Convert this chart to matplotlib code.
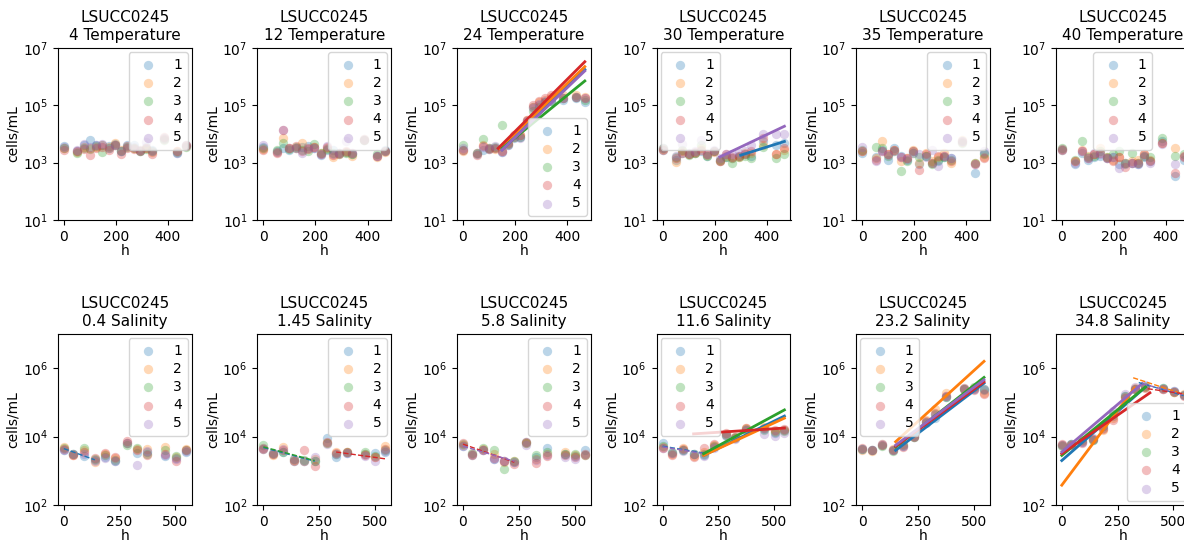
import matplotlib
matplotlib.use("Agg")
import matplotlib.pyplot as plt
import numpy as np
from matplotlib.ticker import NullLocator, FixedLocator

# ---------------- data ----------------
strain = "LSUCC0245"
replicates = ["1", "2", "3", "4", "5"]

temp_conditions = ["4", "12", "24", "30", "35", "40"]
sal_conditions = ["0.4", "1.45", "5.8", "11.6", "23.2", "34.8"]

temp_hours = [0, 52, 76, 100, 124, 148, 172, 196, 220, 244, 268, 292, 316, 340, 385, 435, 468]
sal_hours = [0, 42, 90, 139, 184, 230, 284, 326, 375, 455, 502, 546]

# log10(cells/mL), one row per replicate
temp_4 = [
    [3.58, 3.40, 3.62, 3.78, 3.60, 3.62, 3.58, 3.65, 3.40, 3.62, 3.60, 3.42, 3.55, 3.45, 3.85, 3.35, 3.60],
    [3.50, 3.38, 3.55, 3.50, 3.55, 3.60, 3.55, 3.68, 3.45, 3.58, 3.52, 3.45, 3.50, 3.38, 3.82, 3.40, 3.58],
    [3.52, 3.35, 3.50, 3.48, 3.58, 3.38, 3.50, 3.62, 3.40, 3.55, 3.50, 3.40, 3.48, 3.40, 3.80, 3.38, 3.55],
    [3.45, 3.42, 3.48, 3.28, 3.52, 3.55, 3.45, 3.60, 3.30, 3.50, 3.48, 3.42, 3.52, 3.30, 3.88, 3.40, 3.60],
    [3.55, 3.45, 3.65, 3.55, 3.62, 3.65, 3.52, 3.62, 3.42, 3.58, 3.55, 3.45, 3.72, 3.40, 3.84, 3.32, 3.58],
]
temp_12 = [
    [3.55, 3.40, 3.50, 3.45, 3.50, 3.55, 3.58, 3.50, 3.28, 3.45, 3.45, 3.35, 3.38, 3.30, 3.80, 3.25, 3.45],
    [3.48, 3.38, 3.85, 3.50, 3.52, 3.68, 3.50, 3.55, 3.32, 3.50, 3.20, 3.32, 3.38, 3.25, 3.82, 3.20, 3.38],
    [3.50, 3.45, 3.70, 3.48, 3.55, 3.45, 3.40, 3.65, 3.35, 3.48, 3.35, 3.30, 3.35, 3.30, 3.80, 3.30, 3.42],
    [3.45, 3.35, 4.15, 3.52, 3.58, 3.40, 3.48, 3.55, 3.30, 3.55, 3.28, 3.30, 3.40, 3.35, 3.78, 3.22, 3.40],
    [3.62, 3.38, 4.15, 3.50, 3.52, 3.35, 3.52, 3.52, 3.30, 3.58, 3.30, 3.32, 3.75, 3.32, 3.82, 3.22, 3.42],
]
temp_24 = [
    [3.45, 3.30, 3.45, 3.48, 3.52, 3.38, 3.60, 3.85, 3.90, 4.45, 4.95, 5.00, 5.10, 5.15, 5.20, 5.25, 5.12],
    [3.40, 3.32, 3.60, 3.50, 3.48, 3.42, 3.65, 3.88, 3.95, 4.50, 4.95, 5.10, 5.20, 5.30, 5.35, 5.35, 5.28],
    [3.62, 3.35, 3.82, 3.50, 3.55, 4.33, 3.65, 3.90, 3.88, 4.40, 4.80, 4.95, 5.10, 5.15, 5.25, 5.30, 5.20],
    [3.45, 3.28, 3.58, 3.48, 3.50, 3.40, 3.70, 3.95, 3.95, 4.50, 5.00, 5.15, 5.25, 5.35, 5.25, 5.30, 5.25],
    [3.50, 3.32, 3.55, 3.52, 3.58, 3.38, 3.62, 3.88, 3.85, 4.45, 4.90, 5.05, 5.15, 5.20, 5.25, 5.28, 5.25],
]
temp_30 = [
    [3.45, 3.10, 3.35, 3.30, 3.35, 3.40, 3.25, 3.40, 3.05, 3.20, 3.15, 3.25, 3.30, 3.25, 3.75, 3.60, 3.70],
    [3.48, 3.02, 3.40, 3.30, 3.32, 3.50, 3.28, 3.38, 3.05, 3.25, 3.15, 3.20, 3.35, 3.35, 3.60, 3.30, 3.45],
    [3.50, 3.20, 3.45, 3.28, 3.35, 3.60, 3.25, 3.42, 3.08, 3.20, 3.00, 3.20, 3.25, 3.15, 3.55, 3.15, 3.30],
    [3.45, 3.15, 3.35, 3.30, 3.38, 3.45, 3.30, 3.40, 3.05, 3.30, 3.20, 3.25, 3.30, 3.40, 3.85, 3.30, 3.50],
    [3.50, 3.25, 3.65, 3.35, 3.40, 3.80, 3.30, 3.45, 3.15, 3.30, 3.30, 3.35, 3.40, 3.60, 4.00, 4.00, 4.00],
]
temp_35 = [
    [3.35, 3.20, 3.45, 3.10, 3.50, 3.25, 3.10, 3.40, 2.95, 3.25, 3.00, 3.05, 3.20, 3.15, 3.75, 2.65, 3.35],
    [3.40, 3.15, 3.75, 3.30, 3.45, 3.05, 3.15, 3.45, 3.00, 3.35, 3.05, 3.20, 3.35, 3.00, 3.78, 3.00, 3.20],
    [3.45, 3.55, 3.50, 3.25, 3.40, 2.70, 3.05, 3.35, 3.20, 3.25, 2.95, 3.10, 3.20, 3.10, 3.70, 3.00, 3.30],
    [3.40, 3.10, 3.40, 3.30, 3.45, 3.20, 3.15, 3.42, 2.75, 3.30, 3.00, 3.25, 3.25, 3.05, 3.72, 2.95, 3.15],
    [3.55, 3.05, 3.40, 3.28, 3.42, 3.20, 3.12, 3.35, 3.30, 3.20, 3.45, 2.90, 3.25, 3.15, 3.75, 2.95, 3.40],
]
temp_40 = [
    [3.45, 2.95, 3.35, 3.10, 3.20, 3.25, 3.15, 3.20, 2.95, 2.95, 3.00, 2.95, 3.20, 3.05, 3.75, 2.55, 3.10],
    [3.48, 3.05, 3.45, 3.25, 3.30, 3.50, 3.20, 3.10, 3.20, 3.00, 3.05, 3.10, 3.30, 3.10, 3.70, 3.50, 3.20],
    [3.50, 3.10, 3.75, 3.20, 3.25, 3.40, 3.20, 3.30, 3.40, 3.00, 3.35, 3.00, 3.25, 3.20, 3.85, 3.25, 3.30],
    [3.45, 3.05, 3.40, 3.15, 3.30, 3.35, 3.18, 3.05, 3.20, 2.85, 3.00, 3.00, 3.30, 3.05, 3.70, 2.65, 3.25],
    [3.48, 3.00, 3.40, 3.15, 3.32, 3.30, 3.15, 3.20, 2.80, 3.00, 3.00, 2.95, 3.25, 3.00, 3.65, 2.95, 3.20],
]

sal_04 = [
    [3.62, 3.48, 3.42, 3.33, 3.40, 3.28, 3.80, 3.52, 3.55, 3.42, 3.38, 3.55],
    [3.70, 3.45, 3.60, 3.25, 3.50, 3.38, 3.82, 3.65, 3.65, 3.70, 3.40, 3.65],
    [3.68, 3.50, 3.68, 3.35, 3.45, 3.32, 3.75, 3.68, 3.50, 3.60, 3.42, 3.62],
    [3.65, 3.45, 3.55, 3.38, 3.52, 3.40, 3.88, 3.62, 3.45, 3.48, 3.30, 3.60],
    [3.60, 3.50, 3.50, 3.30, 3.38, 3.30, 3.82, 3.17, 3.58, 3.45, 3.35, 3.58],
]
sal_145 = [
    [3.65, 3.50, 3.55, 3.30, 3.30, 3.28, 3.95, 3.40, 3.52, 3.48, 3.52, 3.55],
    [3.68, 3.45, 3.70, 3.32, 3.30, 3.35, 3.80, 3.55, 3.55, 3.50, 3.40, 3.72],
    [3.75, 3.52, 3.55, 3.35, 3.32, 3.30, 3.82, 3.50, 3.55, 3.55, 3.42, 3.60],
    [3.65, 3.50, 3.60, 3.30, 3.60, 3.15, 3.85, 3.52, 3.55, 3.45, 3.40, 3.65],
    [3.68, 3.52, 3.65, 3.35, 3.28, 3.40, 3.78, 3.50, 3.52, 3.42, 3.30, 3.58],
]
sal_58 = [
    [3.72, 3.45, 3.62, 3.35, 3.28, 3.25, 3.85, 3.40, 3.68, 3.50, 3.42, 3.60],
    [3.75, 3.50, 3.65, 3.50, 3.25, 3.28, 3.80, 3.35, 3.50, 3.55, 3.45, 3.50],
    [3.78, 3.52, 3.68, 3.62, 3.05, 3.30, 3.80, 3.45, 3.55, 3.48, 3.48, 3.45],
    [3.80, 3.45, 3.62, 3.38, 3.30, 3.20, 3.85, 3.22, 3.42, 3.45, 3.40, 3.45],
    [3.72, 3.48, 3.60, 3.35, 3.28, 3.25, 3.75, 3.32, 3.45, 3.40, 3.35, 3.48],
]
sal_116 = [
    [3.80, 3.52, 3.62, 3.48, 3.45, 3.70, 4.05, 3.95, 4.20, 4.22, 4.10, 4.18],
    [3.70, 3.48, 3.68, 3.42, 3.55, 3.75, 4.08, 3.95, 4.25, 4.28, 4.15, 4.20],
    [3.72, 3.55, 3.60, 3.50, 3.50, 3.72, 4.05, 3.98, 4.22, 4.20, 4.12, 4.15],
    [3.68, 3.45, 3.65, 3.40, 3.68, 3.78, 4.10, 4.00, 4.25, 4.25, 4.18, 4.22],
    [3.68, 3.52, 3.58, 3.48, 3.42, 3.68, 4.02, 3.92, 4.18, 4.08, 4.02, 4.10],
]
sal_232 = [
    [3.65, 3.62, 3.75, 3.60, 3.72, 4.00, 4.40, 4.55, 5.15, 5.40, 5.40, 5.35],
    [3.62, 3.58, 3.78, 3.65, 3.78, 4.02, 4.50, 4.80, 5.27, 5.42, 5.42, 5.28],
    [3.65, 3.62, 3.72, 3.58, 3.75, 3.98, 4.42, 4.65, 5.15, 5.40, 5.45, 5.40],
    [3.68, 3.60, 3.75, 3.62, 3.70, 4.00, 4.45, 4.70, 5.20, 5.38, 5.35, 5.25],
    [3.65, 3.62, 3.78, 3.60, 3.72, 4.02, 4.42, 4.62, 5.18, 5.42, 5.40, 5.38],
]
sal_348 = [
    [3.75, 3.78, 3.85, 3.90, 4.25, 4.60, 5.20, 5.40, 5.48, 5.42, 5.32, 5.22],
    [3.75, 3.75, 3.88, 3.92, 4.20, 4.55, 5.15, 5.42, 5.45, 5.40, 5.30, 5.25],
    [3.72, 3.78, 3.90, 3.90, 4.30, 4.65, 5.20, 5.38, 5.45, 5.42, 5.30, 5.22],
    [3.78, 3.75, 3.82, 3.92, 4.22, 4.50, 5.12, 5.40, 5.42, 5.38, 5.30, 5.20],
    [3.75, 3.78, 3.85, 3.95, 4.30, 4.75, 5.25, 5.45, 5.50, 5.40, 5.32, 5.22],
]

# fitted phases: (replicate index, start h, end h, start log10, end log10, phase)
fits_temp_24 = [
    (0, 150, 468, 3.45, 6.25, "growth"),
    (1, 140, 468, 3.50, 6.35, "growth"),
    (2, 150, 468, 3.50, 5.85, "growth"),
    (3, 135, 468, 3.50, 6.52, "growth"),
    (4, 150, 468, 3.45, 6.20, "growth"),
]
fits_temp_30 = [
    (0, 300, 468, 3.26, 3.74, "growth"),
    (4, 220, 468, 3.20, 4.27, "growth"),
]
fits_sal_04 = [(0, 0, 139, 3.65, 3.32, "decline")]
fits_sal_145 = [
    (0, 0, 230, 3.68, 3.28, "decline"),
    (2, 0, 230, 3.70, 3.30, "decline"),
    (3, 326, 546, 3.55, 3.35, "decline"),
]
fits_sal_58 = [
    (3, 0, 230, 3.78, 3.25, "decline"),
    (4, 0, 230, 3.72, 3.28, "decline"),
]
fits_sal_116 = [
    (0, 0, 184, 3.72, 3.52, "decline"),
    (4, 0, 184, 3.70, 3.50, "decline"),
    (0, 184, 546, 3.45, 4.60, "growth"),
    (1, 184, 546, 3.45, 4.54, "growth"),
    (2, 184, 546, 3.50, 4.78, "growth"),
    (3, 139, 546, 4.08, 4.25, "growth"),
]
fits_sal_232 = [
    (0, 150, 546, 3.60, 5.56, "growth"),
    (1, 150, 546, 3.85, 6.20, "growth"),
    (2, 150, 546, 3.70, 5.73, "growth"),
    (3, 150, 546, 3.72, 5.60, "growth"),
    (4, 150, 546, 3.75, 5.66, "growth"),
]
fits_sal_348 = [
    (0, 0, 375, 3.30, 5.45, "growth"),
    (1, 0, 326, 2.58, 5.42, "growth"),
    (2, 0, 375, 3.45, 5.45, "growth"),
    (3, 0, 395, 3.50, 5.28, "growth"),
    (4, 0, 360, 3.55, 5.55, "growth"),
    (1, 320, 546, 5.72, 5.24, "decline"),
    (0, 345, 546, 5.58, 5.20, "decline"),
    (4, 360, 546, 5.55, 5.22, "decline"),
    (3, 385, 546, 5.40, 5.25, "decline"),
]

temp_data = [temp_4, temp_12, temp_24, temp_30, temp_35, temp_40]
sal_data = [sal_04, sal_145, sal_58, sal_116, sal_232, sal_348]
temp_fits = [[], [], fits_temp_24, fits_temp_30, [], []]
sal_fits = [fits_sal_04, fits_sal_145, fits_sal_58, fits_sal_116, fits_sal_232, fits_sal_348]
temp_legend_loc = ["upper right", "upper right", "lower right", "upper left", "upper right", "upper center"]
sal_legend_loc = ["upper right", "upper right", "upper right", "upper left", "upper left", "lower right"]

# ---------------- drawing ----------------
W, H = 1184, 543
fig = plt.figure(figsize=(W / 100, H / 100), dpi=100)
colors = plt.rcParams["axes.prop_cycle"].by_key()["color"][:5]

col_left = [57.7 + i * 199.6 for i in range(6)]
ax_w = 134
rows = [
    dict(top=48, bottom=220, cond=temp_conditions, label="Temperature", hours=temp_hours,
         data=temp_data, fits=temp_fits, locs=temp_legend_loc, ylim=(1e1, 1e7),
         yticks=[1e1, 1e3, 1e5, 1e7], xticks=[0, 200, 400]),
    dict(top=334, bottom=505, cond=sal_conditions, label="Salinity", hours=sal_hours,
         data=sal_data, fits=sal_fits, locs=sal_legend_loc, ylim=(1e2, 1e7),
         yticks=[1e2, 1e4, 1e6], xticks=[0, 250, 500]),
]

for row in rows:
    for j in range(6):
        left = col_left[j]
        ax = fig.add_axes([left / W, 1 - row["bottom"] / H, ax_w / W,
                           (row["bottom"] - row["top"]) / H])
        hrs = np.array(row["hours"])
        for r, rep in enumerate(replicates):
            vals = 10 ** np.array(row["data"][j][r])
            ax.scatter(hrs, vals, s=45, color=colors[r], alpha=0.3, linewidths=0,
                       label=rep, zorder=2)
        for (r, t0, t1, l0, l1, phase) in row["fits"][j]:
            if phase == "growth":
                ax.plot([t0, t1], [10 ** l0, 10 ** l1], color=colors[r], lw=2, zorder=3)
            else:
                ax.plot([t0, t1], [10 ** l0, 10 ** l1], color=colors[r], lw=1,
                        ls="--", zorder=3)
        ax.set_yscale("log")
        ax.set_ylim(*row["ylim"])
        ax.yaxis.set_major_locator(FixedLocator(row["yticks"]))
        ax.yaxis.set_minor_locator(NullLocator())
        ax.set_xticks(row["xticks"])
        span = hrs.max() - hrs.min()
        ax.set_xlim(hrs.min() - 0.05 * span, hrs.max() + 0.05 * span)
        ax.set_xlabel("h", fontsize=10, labelpad=0.5)
        ax.set_ylabel("cells/mL", fontsize=10, labelpad=2)
        ax.tick_params(labelsize=10)
        ax.set_title(f"{strain}\n{row['cond'][j]} {row['label']}", fontsize=11)
        ax.legend(loc=row["locs"][j], fontsize=10, labelspacing=0.3,
                  borderaxespad=0.3)

fig.savefig("out.png", dpi=100)
